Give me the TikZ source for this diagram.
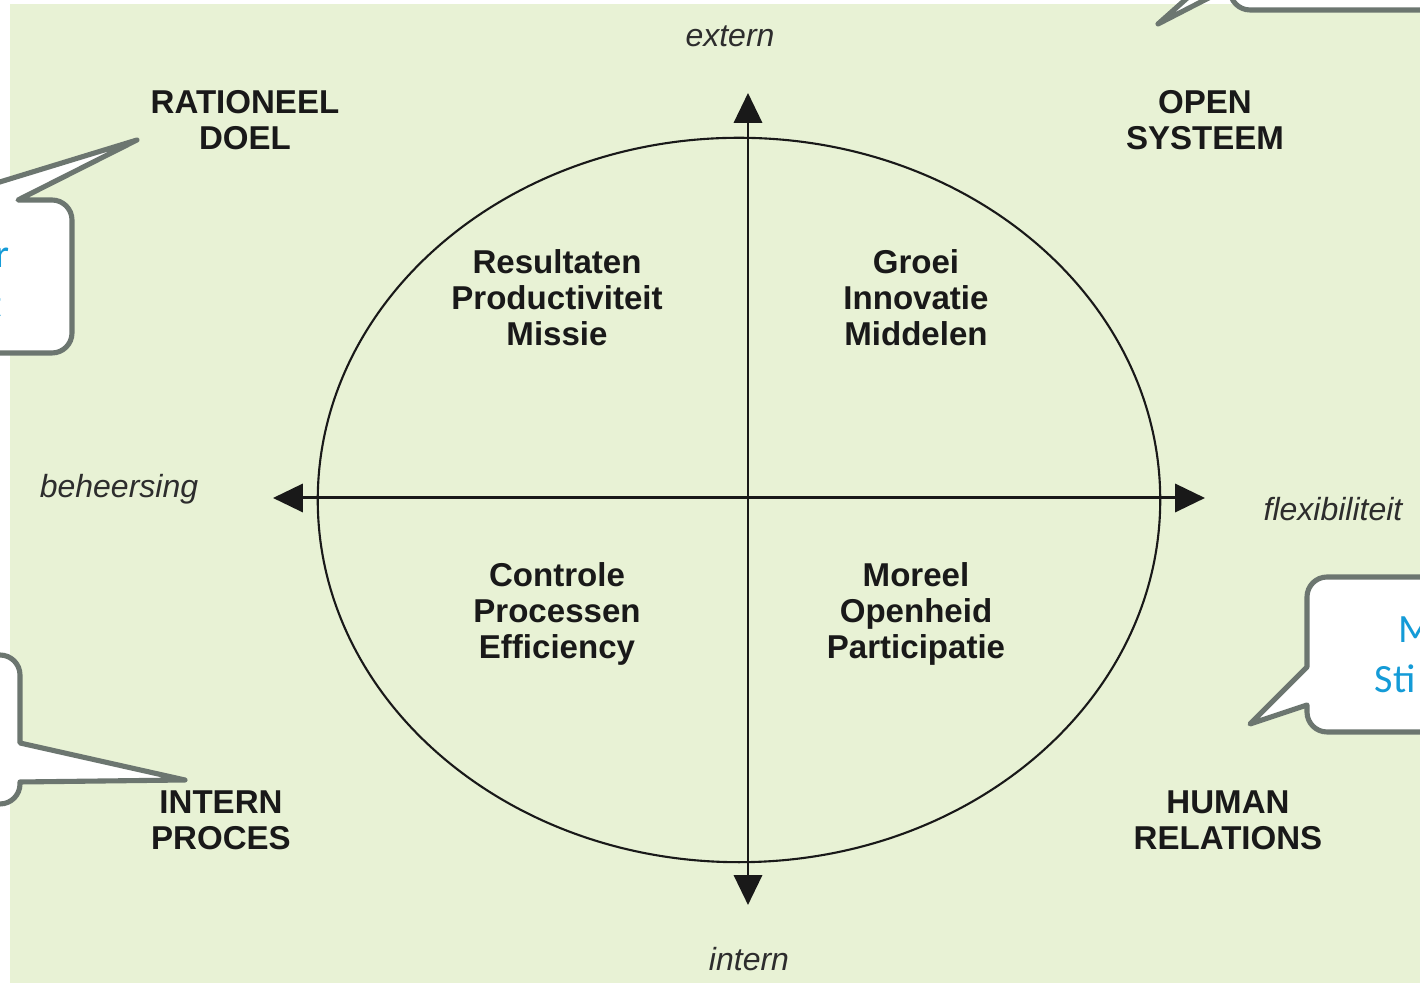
\documentclass[tikz,border=0pt]{standalone}
\usepackage{fontspec}
\setmainfont{Liberation Sans}
\newfontfamily\calib{Carlito}
\usetikzlibrary{arrows.meta}
\definecolor{bgc}{RGB}{232,242,213}
\definecolor{callbd}{RGB}{108,118,112}
\definecolor{callblue}{RGB}{20,155,215}
\definecolor{ink}{RGB}{25,25,25}
\definecolor{ital}{RGB}{45,45,45}
\tikzset{
  boldlab/.style={inner sep=0pt, align=center, text=ink,
    font=\fontsize{9.4pt}{10.2pt}\selectfont\bfseries},
  itallab/.style={inner sep=0pt, text=ital,
    font=\fontsize{9.1pt}{10.5pt}\selectfont\itshape},
  axis/.style={line width=0.85pt, ink,
    {Triangle[length=8.5pt,width=8pt]}-{Triangle[length=8.5pt,width=8pt]}},
  callout/.style={draw=callbd, fill=white, line width=1.45pt, line join=round},
  calltext/.style={inner sep=0pt, text=callblue,
    font=\calib\fontsize{11.4pt}{14.2pt}\selectfont},
}
\begin{document}
\begin{tikzpicture}[x=0.01cm, y=-0.01cm]
\useasboundingbox (0,0) rectangle (1420,983);
\clip (0,0) rectangle (1420,983);
% background
\fill[bgc] (10,4) rectangle (1420,983);

% ellipse and axes
\draw[ink, line width=0.6pt] (739,500) ellipse [x radius=4.21cm, y radius=3.62cm];
\coordinate (L) at (273,498);
\coordinate (R) at (1205,498);
\coordinate (T) at (748,93);
\coordinate (B) at (748,905);
\draw[axis] (L) -- (R);
\draw[axis] (T) -- (B);

% axis labels
\node[itallab, anchor=base] (ext) at (730,47) {extern};
\node[itallab, anchor=base] (int) at (749,971) {intern};
\node[itallab, anchor=base] (beh) at (119,498) {beheersing};
\node[itallab, anchor=base] (flex) at (1333,521) {flexibiliteit};

% corner labels
\node[boldlab] (rd) at (245,120) {RATIONEEL\\DOEL};
\node[boldlab] (os) at (1205,120) {OPEN\\SYSTEEM};
\node[boldlab] (ip) at (221,820) {INTERN\\PROCES};
\node[boldlab] (hr) at (1228,820) {HUMAN\\RELATIONS};

% quadrant labels
\node[boldlab] (q1) at (557,298) {Resultaten\\Productiviteit\\Missie};
\node[boldlab] (q2) at (916,298) {Groei\\Innovatie\\Middelen};
\node[boldlab] (q3) at (557,614) {Controle\\Processen\\Efficiency};
\node[boldlab] (q4) at (916,614) {Moreel\\Openheid\\Participatie};

% callout top-left
\draw[callout] (-200,200) -- (-59,200) -- (137,140) -- (18,200)
  [rounded corners=5.7pt] -- (72,200) -- (72,353) -- (-200,353) -- cycle;
\node[calltext, anchor=base east] (c1a) at (10,268) {r};
\node[calltext, anchor=base east] (c1b) at (3,318) {t};

% callout bottom-left
\draw[callout] (-200,655) [rounded corners=5.7pt] -- (20,655) [sharp corners] -- (20,743)
  -- (185,780) -- (20,782) [rounded corners=5.7pt] -- (20,804) -- (-200,804) -- cycle;

% callout right
\draw[callout] (1620,577) [rounded corners=5.7pt] -- (1307,577) [sharp corners] -- (1307,667)
  -- (1250,724) -- (1307,705) [rounded corners=5.7pt] -- (1307,732) -- (1620,732) -- cycle;
\node[calltext, anchor=base west] (c2a) at (1398,643) {M};
\node[calltext, anchor=base west] (c2b) at (1374,693) {Sti};

% callout top-right
\draw[callout] (1620,10) [rounded corners=5.7pt] -- (1230,10) [sharp corners] -- (1230,-13)
  -- (1158,24) -- (1230,-40) -- (1230,-200) -- (1620,-200) -- cycle;
\end{tikzpicture}
\end{document}
